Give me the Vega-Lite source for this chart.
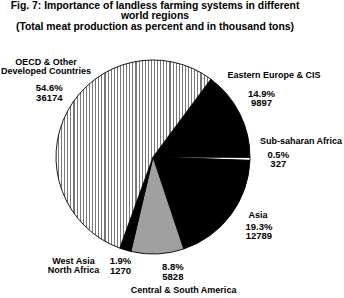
{
  "$schema": "https://vega.github.io/schema/vega-lite/v6.json",
  "autosize": "none",
  "width": 306,
  "height": 282,
  "padding": {"left": 0, "top": 16, "right": 38, "bottom": 0},
  "background": "white",
  "config": {"view": {"stroke": null}},
  "title": {
    "text": ["Fig. 7: Importance of landless farming systems in different", "world regions", "(Total meat production as percent and in thousand tons)"],
    "font": "Liberation Sans", "fontSize": 10.4, "fontWeight": "bold", "lineHeight": 10.8,
    "color": "black", "anchor": "middle", "frame": "group", "offset": -16.5, "dx": 2
  },
  "data": {"values": [
    {"seq": 1, "region": "Eastern Europe & CIS", "pct": 14.9, "tons": 9897, "name": ["Eastern Europe & CIS"], "nums": ["14.9%", "9897"]},
    {"seq": 2, "region": "Sub-saharan Africa", "pct": 0.5, "tons": 327, "name": ["Sub-saharan Africa"], "nums": ["0.5%", "327"]},
    {"seq": 3, "region": "Asia", "pct": 19.3, "tons": 12789, "name": ["Asia"], "nums": ["19.3%", "12789"]},
    {"seq": 4, "region": "Central & South America", "pct": 8.8, "tons": 5828, "name": ["Central & South America"], "nums": ["8.8%", "5828"]},
    {"seq": 5, "region": "West Asia North Africa", "pct": 1.9, "tons": 1270, "name": ["West Asia", "North Africa"], "nums": ["1.9%", "1270"]},
    {"seq": 6, "region": "OECD & Other Developed Countries", "pct": 54.6, "tons": 36174, "name": ["OECD & Other", "Developed Countries"], "nums": ["54.6%", "36174"]}
  ]},
  "encoding": {
    "theta": {"field": "pct", "type": "quantitative", "stack": true, "scale": {"range": [0.6388, 6.9220]}},
    "order": {"field": "seq", "type": "quantitative"}
  },
  "layer": [
    {
      "mark": {"type": "arc", "outerRadius": 97, "stroke": "black", "strokeWidth": 0.9},
      "encoding": {
        "fill": {
          "condition": [
            {"test": "datum.seq === 6", "value": {"gradient": "linear", "x1": 0, "y1": 0, "x2": 1, "y2": 0, "stops": [
              {"offset":0,"color":"#fff"},{"offset":0.013,"color":"#fff"},{"offset":0.013,"color":"#777"},{"offset":0.02,"color":"#777"},
              {"offset":0.02,"color":"#fff"},{"offset":0.033,"color":"#fff"},{"offset":0.033,"color":"#777"},{"offset":0.04,"color":"#777"},
              {"offset":0.04,"color":"#fff"},{"offset":0.053,"color":"#fff"},{"offset":0.053,"color":"#777"},{"offset":0.06,"color":"#777"},
              {"offset":0.06,"color":"#fff"},{"offset":0.073,"color":"#fff"},{"offset":0.073,"color":"#777"},{"offset":0.08,"color":"#777"},
              {"offset":0.08,"color":"#fff"},{"offset":0.093,"color":"#fff"},{"offset":0.093,"color":"#777"},{"offset":0.1,"color":"#777"},
              {"offset":0.1,"color":"#fff"},{"offset":0.113,"color":"#fff"},{"offset":0.113,"color":"#777"},{"offset":0.12,"color":"#777"},
              {"offset":0.12,"color":"#fff"},{"offset":0.133,"color":"#fff"},{"offset":0.133,"color":"#777"},{"offset":0.14,"color":"#777"},
              {"offset":0.14,"color":"#fff"},{"offset":0.153,"color":"#fff"},{"offset":0.153,"color":"#777"},{"offset":0.16,"color":"#777"},
              {"offset":0.16,"color":"#fff"},{"offset":0.173,"color":"#fff"},{"offset":0.173,"color":"#777"},{"offset":0.18,"color":"#777"},
              {"offset":0.18,"color":"#fff"},{"offset":0.193,"color":"#fff"},{"offset":0.193,"color":"#777"},{"offset":0.2,"color":"#777"},
              {"offset":0.2,"color":"#fff"},{"offset":0.213,"color":"#fff"},{"offset":0.213,"color":"#777"},{"offset":0.22,"color":"#777"},
              {"offset":0.22,"color":"#fff"},{"offset":0.233,"color":"#fff"},{"offset":0.233,"color":"#777"},{"offset":0.24,"color":"#777"},
              {"offset":0.24,"color":"#fff"},{"offset":0.253,"color":"#fff"},{"offset":0.253,"color":"#777"},{"offset":0.26,"color":"#777"},
              {"offset":0.26,"color":"#fff"},{"offset":0.273,"color":"#fff"},{"offset":0.273,"color":"#777"},{"offset":0.28,"color":"#777"},
              {"offset":0.28,"color":"#fff"},{"offset":0.293,"color":"#fff"},{"offset":0.293,"color":"#777"},{"offset":0.3,"color":"#777"},
              {"offset":0.3,"color":"#fff"},{"offset":0.313,"color":"#fff"},{"offset":0.313,"color":"#777"},{"offset":0.32,"color":"#777"},
              {"offset":0.32,"color":"#fff"},{"offset":0.333,"color":"#fff"},{"offset":0.333,"color":"#777"},{"offset":0.34,"color":"#777"},
              {"offset":0.34,"color":"#fff"},{"offset":0.353,"color":"#fff"},{"offset":0.353,"color":"#777"},{"offset":0.36,"color":"#777"},
              {"offset":0.36,"color":"#fff"},{"offset":0.373,"color":"#fff"},{"offset":0.373,"color":"#777"},{"offset":0.38,"color":"#777"},
              {"offset":0.38,"color":"#fff"},{"offset":0.393,"color":"#fff"},{"offset":0.393,"color":"#777"},{"offset":0.4,"color":"#777"},
              {"offset":0.4,"color":"#fff"},{"offset":0.413,"color":"#fff"},{"offset":0.413,"color":"#777"},{"offset":0.42,"color":"#777"},
              {"offset":0.42,"color":"#fff"},{"offset":0.433,"color":"#fff"},{"offset":0.433,"color":"#777"},{"offset":0.44,"color":"#777"},
              {"offset":0.44,"color":"#fff"},{"offset":0.453,"color":"#fff"},{"offset":0.453,"color":"#777"},{"offset":0.46,"color":"#777"},
              {"offset":0.46,"color":"#fff"},{"offset":0.473,"color":"#fff"},{"offset":0.473,"color":"#777"},{"offset":0.48,"color":"#777"},
              {"offset":0.48,"color":"#fff"},{"offset":0.493,"color":"#fff"},{"offset":0.493,"color":"#777"},{"offset":0.5,"color":"#777"},
              {"offset":0.5,"color":"#fff"},{"offset":0.513,"color":"#fff"},{"offset":0.513,"color":"#777"},{"offset":0.52,"color":"#777"},
              {"offset":0.52,"color":"#fff"},{"offset":0.533,"color":"#fff"},{"offset":0.533,"color":"#777"},{"offset":0.54,"color":"#777"},
              {"offset":0.54,"color":"#fff"},{"offset":0.553,"color":"#fff"},{"offset":0.553,"color":"#777"},{"offset":0.56,"color":"#777"},
              {"offset":0.56,"color":"#fff"},{"offset":0.573,"color":"#fff"},{"offset":0.573,"color":"#777"},{"offset":0.58,"color":"#777"},
              {"offset":0.58,"color":"#fff"},{"offset":0.593,"color":"#fff"},{"offset":0.593,"color":"#777"},{"offset":0.6,"color":"#777"},
              {"offset":0.6,"color":"#fff"},{"offset":0.613,"color":"#fff"},{"offset":0.613,"color":"#777"},{"offset":0.62,"color":"#777"},
              {"offset":0.62,"color":"#fff"},{"offset":0.633,"color":"#fff"},{"offset":0.633,"color":"#777"},{"offset":0.64,"color":"#777"},
              {"offset":0.64,"color":"#fff"},{"offset":0.653,"color":"#fff"},{"offset":0.653,"color":"#777"},{"offset":0.66,"color":"#777"},
              {"offset":0.66,"color":"#fff"},{"offset":0.673,"color":"#fff"},{"offset":0.673,"color":"#777"},{"offset":0.68,"color":"#777"},
              {"offset":0.68,"color":"#fff"},{"offset":0.693,"color":"#fff"},{"offset":0.693,"color":"#777"},{"offset":0.7,"color":"#777"},
              {"offset":0.7,"color":"#fff"},{"offset":0.713,"color":"#fff"},{"offset":0.713,"color":"#777"},{"offset":0.72,"color":"#777"},
              {"offset":0.72,"color":"#fff"},{"offset":0.733,"color":"#fff"},{"offset":0.733,"color":"#777"},{"offset":0.74,"color":"#777"},
              {"offset":0.74,"color":"#fff"},{"offset":0.753,"color":"#fff"},{"offset":0.753,"color":"#777"},{"offset":0.76,"color":"#777"},
              {"offset":0.76,"color":"#fff"},{"offset":0.773,"color":"#fff"},{"offset":0.773,"color":"#777"},{"offset":0.78,"color":"#777"},
              {"offset":0.78,"color":"#fff"},{"offset":0.793,"color":"#fff"},{"offset":0.793,"color":"#777"},{"offset":0.8,"color":"#777"},
              {"offset":0.8,"color":"#fff"},{"offset":0.813,"color":"#fff"},{"offset":0.813,"color":"#777"},{"offset":0.82,"color":"#777"},
              {"offset":0.82,"color":"#fff"},{"offset":0.833,"color":"#fff"},{"offset":0.833,"color":"#777"},{"offset":0.84,"color":"#777"},
              {"offset":0.84,"color":"#fff"},{"offset":0.853,"color":"#fff"},{"offset":0.853,"color":"#777"},{"offset":0.86,"color":"#777"},
              {"offset":0.86,"color":"#fff"},{"offset":0.873,"color":"#fff"},{"offset":0.873,"color":"#777"},{"offset":0.88,"color":"#777"},
              {"offset":0.88,"color":"#fff"},{"offset":0.893,"color":"#fff"},{"offset":0.893,"color":"#777"},{"offset":0.9,"color":"#777"},
              {"offset":0.9,"color":"#fff"},{"offset":0.913,"color":"#fff"},{"offset":0.913,"color":"#777"},{"offset":0.92,"color":"#777"},
              {"offset":0.92,"color":"#fff"},{"offset":0.933,"color":"#fff"},{"offset":0.933,"color":"#777"},{"offset":0.94,"color":"#777"},
              {"offset":0.94,"color":"#fff"},{"offset":0.953,"color":"#fff"},{"offset":0.953,"color":"#777"},{"offset":0.96,"color":"#777"},
              {"offset":0.96,"color":"#fff"},{"offset":0.973,"color":"#fff"},{"offset":0.973,"color":"#777"},{"offset":0.98,"color":"#777"},
              {"offset":0.98,"color":"#fff"},{"offset":0.993,"color":"#fff"},{"offset":0.993,"color":"#777"},{"offset":1,"color":"#777"}
            ]}},
            {"test": "datum.seq === 4", "value": "#a0a0a0"},
            {"test": "datum.seq === 2", "value": "white"}
          ],
          "value": "black"
        }
      }
    },
    {"mark": {"type": "text", "radius": 123, "dx": -1.5, "dy": -8.25, "font": "Liberation Sans", "fontWeight": "bold", "fontSize": 9.5, "lineHeight": 9.5, "color": "black"},
     "encoding": {"text": {"condition": {"test": "datum.seq === 1", "field": "nums", "type": "nominal"}, "value": ""}}},
    {"mark": {"type": "text", "radius": 123, "dx": 11, "dy": -27, "font": "Liberation Sans", "fontWeight": "bold", "fontSize": 9, "lineHeight": 9, "color": "black"},
     "encoding": {"text": {"condition": {"test": "datum.seq === 1", "field": "name", "type": "nominal"}, "value": ""}}},

    {"mark": {"type": "text", "radius": 125, "dx": 0.3, "dy": -4.75, "font": "Liberation Sans", "fontWeight": "bold", "fontSize": 9.5, "lineHeight": 9.5, "color": "black"},
     "encoding": {"text": {"condition": {"test": "datum.seq === 2", "field": "nums", "type": "nominal"}, "value": ""}}},
    {"mark": {"type": "text", "radius": 125, "dx": 23, "dy": -18, "font": "Liberation Sans", "fontWeight": "bold", "fontSize": 9, "lineHeight": 9, "color": "black"},
     "encoding": {"text": {"condition": {"test": "datum.seq === 2", "field": "name", "type": "nominal"}, "value": ""}}},

    {"mark": {"type": "text", "radius": 129, "dx": 2.6, "dy": -7.55, "font": "Liberation Sans", "fontWeight": "bold", "fontSize": 9.5, "lineHeight": 9.5, "color": "black"},
     "encoding": {"text": {"condition": {"test": "datum.seq === 3", "field": "nums", "type": "nominal"}, "value": ""}}},
    {"mark": {"type": "text", "radius": 129, "dx": 1.6, "dy": -18.8, "font": "Liberation Sans", "fontWeight": "bold", "fontSize": 9, "lineHeight": 9, "color": "black"},
     "encoding": {"text": {"condition": {"test": "datum.seq === 3", "field": "name", "type": "nominal"}, "value": ""}}},

    {"mark": {"type": "text", "radius": 116, "dx": 14.5, "dy": -5.55, "font": "Liberation Sans", "fontWeight": "bold", "fontSize": 9.5, "lineHeight": 9.5, "color": "black"},
     "encoding": {"text": {"condition": {"test": "datum.seq === 4", "field": "nums", "type": "nominal"}, "value": ""}}},
    {"mark": {"type": "text", "radius": 116, "dx": 25.2, "dy": 17, "font": "Liberation Sans", "fontWeight": "bold", "fontSize": 9, "lineHeight": 9, "color": "black"},
     "encoding": {"text": {"condition": {"test": "datum.seq === 4", "field": "name", "type": "nominal"}, "value": ""}}},

    {"mark": {"type": "text", "radius": 114, "dx": 0.1, "dy": -4.95, "font": "Liberation Sans", "fontWeight": "bold", "fontSize": 9.5, "lineHeight": 9.5, "color": "black"},
     "encoding": {"text": {"condition": {"test": "datum.seq === 5", "field": "nums", "type": "nominal"}, "value": ""}}},
    {"mark": {"type": "text", "radius": 114, "dx": -46.9, "dy": -4.9, "font": "Liberation Sans", "fontWeight": "bold", "fontSize": 9, "lineHeight": 9, "color": "black"},
     "encoding": {"text": {"condition": {"test": "datum.seq === 5", "field": "name", "type": "nominal"}, "value": ""}}},

    {"mark": {"type": "text", "radius": 122, "dx": 3.7, "dy": -10.65, "font": "Liberation Sans", "fontWeight": "bold", "fontSize": 9.5, "lineHeight": 9.5, "color": "black"},
     "encoding": {"text": {"condition": {"test": "datum.seq === 6", "field": "nums", "type": "nominal"}, "value": ""}}},
    {"mark": {"type": "text", "radius": 122, "dx": 0.4, "dy": -37, "font": "Liberation Sans", "fontWeight": "bold", "fontSize": 9, "lineHeight": 9, "color": "black"},
     "encoding": {"text": {"condition": {"test": "datum.seq === 6", "field": "name", "type": "nominal"}, "value": ""}}}
  ]
}
